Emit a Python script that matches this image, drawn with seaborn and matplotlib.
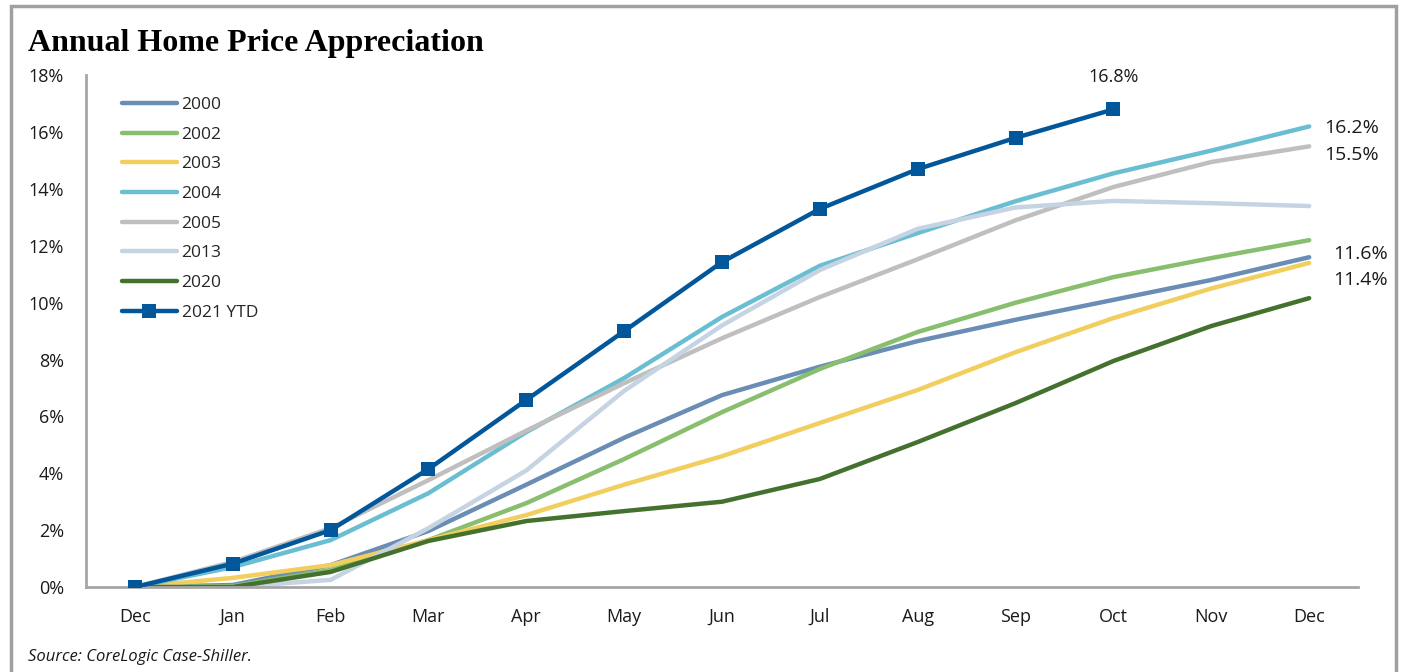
import matplotlib
matplotlib.use("Agg")
import matplotlib.pyplot as plt
import seaborn as sns
import pandas as pd
from matplotlib.patches import Rectangle
from matplotlib.lines import Line2D
from matplotlib.ticker import FuncFormatter

months = ["Dec", "Jan", "Feb", "Mar", "Apr", "May", "Jun",
          "Jul", "Aug", "Sep", "Oct", "Nov", "Dec"]

y2000 = [0.0, 0.07, 0.77, 1.97, 3.6, 5.25, 6.75, 7.75, 8.65, 9.4, 10.1, 10.8, 11.6]
y2002 = [0.0, 0.03, 0.6, 1.65, 2.95, 4.5, 6.15, 7.67, 8.97, 10.0, 10.9, 11.57, 12.2]
y2003 = [0.0, 0.32, 0.77, 1.65, 2.53, 3.6, 4.6, 5.77, 6.93, 8.26, 9.46, 10.5, 11.4]
y2004 = [0.0, 0.7, 1.65, 3.3, 5.45, 7.35, 9.5, 11.3, 12.45, 13.57, 14.55, 15.35, 16.2]
y2005 = [0.0, 0.88, 2.07, 3.76, 5.5, 7.17, 8.75, 10.2, 11.53, 12.9, 14.07, 14.95, 15.5]
y2013 = [0.0, 0.0, 0.25, 2.07, 4.1, 6.9, 9.2, 11.15, 12.6, 13.35, 13.58, 13.5, 13.4]
y2020 = [0.0, 0.0, 0.53, 1.62, 2.32, 2.67, 3.0, 3.8, 5.1, 6.47, 7.95, 9.18, 10.16]
y2021 = [0.0, 0.82, 2.0, 4.15, 6.58, 9.0, 11.43, 13.3, 14.7, 15.8, 16.8]

series_names = ["2000", "2002", "2003", "2004", "2005", "2013", "2020", "2021 YTD"]
series_values = [y2000, y2002, y2003, y2004, y2005, y2013, y2020, y2021]
palette = ["#6A8DB5", "#88BE6E", "#F2CE5E", "#6ABED2",
           "#BFBFBF", "#C5D3E2", "#45712F", "#02569A"]

# end-of-line value labels
end_labels = {"2021 YTD": 16.8, "2004": 16.2, "2005": 15.5, "2000": 11.6, "2003": 11.4}

rows = []
for name, vals in zip(series_names, series_values):
    for i, v in enumerate(vals):
        rows.append({"pos": i, "value": v, "series": name})
df = pd.DataFrame(rows)

sns.set_theme(style="white")
plt.rcParams["font.family"] = ["Open Sans", "DejaVu Sans"]

fig = plt.figure(figsize=(14.03, 6.72), dpi=100)
ax = fig.add_axes([0.0613, 0.1265, 0.9067, 0.7615])

sns.lineplot(data=df[df.series != "2021 YTD"], x="pos", y="value", hue="series",
             hue_order=series_names[:-1], palette=palette[:-1],
             linewidth=3.2, ax=ax, sort=False, legend=False)
sns.lineplot(data=df[df.series == "2021 YTD"], x="pos", y="value",
             color=palette[-1], linewidth=3.2, marker="s", markersize=10,
             markeredgewidth=0, ax=ax, sort=False, legend=False, zorder=5)

for line in ax.get_lines():
    line.set_solid_capstyle("round")
    line.set_solid_joinstyle("round")

ax.set_xlim(-0.5, 12.5)
ax.set_ylim(0, 18)
ax.set_xticks(range(len(months)))
ax.set_xticklabels(months)
ax.set_yticks(range(0, 19, 2))
ax.yaxis.set_major_formatter(FuncFormatter(lambda v, _: f"{v:.0f}%"))
ax.tick_params(axis="both", length=0, labelsize=13, colors="#1a1a1a")
ax.tick_params(axis="x", pad=15)
ax.tick_params(axis="y", pad=16)
ax.set_xlabel("")
ax.set_ylabel("")
for side in ["top", "right"]:
    ax.spines[side].set_visible(False)
for side in ["left", "bottom"]:
    ax.spines[side].set_color("#A6A6A6")
    ax.spines[side].set_linewidth(2)

# legend
handles = []
for name, c in zip(series_names, palette):
    if name == "2021 YTD":
        h = Line2D([], [], color=c, lw=3.2, marker="s", markersize=10,
                   markeredgewidth=0, solid_capstyle="round")
    else:
        h = Line2D([], [], color=c, lw=3.2, solid_capstyle="round")
    handles.append(h)
ax.legend(handles, series_names, loc="upper left", bbox_to_anchor=(0.028, 0.958),
          frameon=False, fontsize=12.5, handlelength=3.2, handletextpad=0.25,
          labelspacing=0.78, borderaxespad=0, borderpad=0)

# value labels at line ends
ax.annotate(f"{end_labels['2021 YTD']}%", xy=(10, end_labels["2021 YTD"]),
            xytext=(0, 23), textcoords="offset points", ha="center", va="center",
            fontsize=13, color="#1a1a1a", annotation_clip=False)
ax.annotate(f"{end_labels['2004']}%", xy=(12, end_labels["2004"]),
            xytext=(11, -1), textcoords="offset points", ha="left", va="center",
            fontsize=14, color="#1a1a1a", annotation_clip=False)
ax.annotate(f"{end_labels['2005']}%", xy=(12, end_labels["2005"]),
            xytext=(11, -6), textcoords="offset points", ha="left", va="center",
            fontsize=14, color="#1a1a1a", annotation_clip=False)
ax.annotate(f"{end_labels['2000']}%", xy=(12, end_labels["2000"]),
            xytext=(17, 2), textcoords="offset points", ha="left", va="center",
            fontsize=14, color="#1a1a1a", annotation_clip=False)
ax.annotate(f"{end_labels['2003']}%", xy=(12, end_labels["2003"]),
            xytext=(17, -12), textcoords="offset points", ha="left", va="center",
            fontsize=14, color="#1a1a1a", annotation_clip=False)

# title, source and outer frame
fig.text(0.020, 0.936, "Annual Home Price Appreciation", fontsize=23,
         fontweight="bold", family=["Liberation Serif", "DejaVu Serif"],
         ha="left", va="center", color="black")
fig.text(0.020, 0.022, "Source: CoreLogic Case-Shiller.", fontsize=12,
         style="italic", ha="left", va="center", color="#1a1a1a")
fig.patches.append(Rectangle((0.0075, -0.05), 0.9875, 1.041, transform=fig.transFigure,
                             fill=False, edgecolor="#A0A0A0", linewidth=2.5))

fig.savefig("out.png", dpi=100)
